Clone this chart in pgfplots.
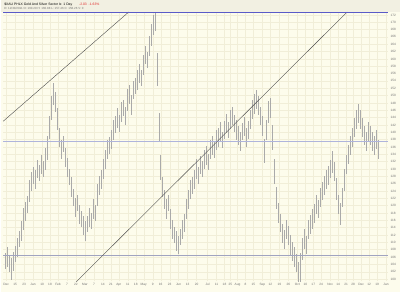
\documentclass[border=0pt]{standalone}
\usepackage{pgfplots}
\pgfplotsset{compat=1.18}
\usepackage{pgfplotstable}
\usepackage{fontspec}
\setmainfont{Liberation Sans}
\definecolor{bgc}{RGB}{253,252,236}
\definecolor{hdr}{RGB}{242,240,226}
\definecolor{gridc}{RGB}{241,238,216}
\definecolor{barc}{RGB}{170,170,170}
\definecolor{blueln}{RGB}{90,90,200}
\definecolor{bluelt}{RGB}{175,180,220}
\definecolor{txt}{RGB}{115,115,115}
\definecolor{redt}{RGB}{225,40,40}
\pgfplotstableread{
x c e
4 104.8 2.2
6 105.9 2.7
8 104.0 2.2
10 102.7 3.0
12 104.8 2.5
14 106.7 2.2
16 108.6 2.7
18 110.8 2.2
20 113.0 2.7
22 116.3 3.0
24 118.4 2.5
26 120.3 2.2
28 123.9 3.0
30 126.6 2.5
32 128.2 2.2
34 127.1 2.7
36 129.9 2.5
38 128.8 2.2
40 131.2 2.7
42 129.9 2.2
44 132.6 3.0
46 135.8 3.3
48 141.3 3.0
50 146.7 3.3
52 150.3 3.0
54 148.3 2.7
56 143.5 3.0
58 138.6 2.7
60 135.3 2.5
62 136.7 2.2
64 133.1 2.7
66 130.4 2.5
68 127.7 2.2
70 125.0 2.7
72 122.2 2.2
74 119.5 2.5
76 120.6 2.2
78 117.6 2.7
80 116.3 2.2
82 114.6 2.5
84 113.0 2.7
86 114.9 2.2
88 116.8 2.5
90 115.7 2.2
92 119.0 2.7
94 117.9 2.2
96 122.8 3.0
98 125.5 2.7
100 127.1 2.5
102 129.9 2.7
104 132.6 2.5
106 135.3 2.7
108 136.4 2.2
110 138.0 2.5
112 140.7 2.7
114 142.1 2.2
116 144.0 2.7
118 142.4 2.2
120 145.6 2.7
122 146.7 2.2
124 144.5 2.5
126 148.9 3.0
128 150.3 2.5
130 147.5 2.7
132 151.6 2.5
134 152.7 2.2
136 154.3 2.7
138 156.0 2.5
140 154.9 2.2
142 158.4 2.7
144 161.1 2.5
146 159.8 2.2
148 163.6 2.7
150 166.6 3.0
152 169.3 2.7
154 170.1 2.6
156 157.1 4.5
158 141.3 4.0
160 130.4 3.3
162 125.0 2.7
164 121.7 2.5
166 119.0 2.7
168 120.6 2.2
170 116.3 2.7
172 113.5 2.5
174 111.9 2.2
176 110.3 2.7
178 109.2 2.5
180 111.4 2.2
182 113.5 2.7
184 115.2 2.5
186 119.0 2.7
188 121.7 2.5
190 124.4 2.7
192 125.5 2.2
194 127.1 2.5
196 129.9 2.7
198 128.2 2.2
200 131.0 2.5
202 129.9 2.2
204 132.6 2.7
206 133.7 2.5
208 132.0 2.2
210 135.3 2.7
212 136.4 2.5
214 135.3 2.2
216 138.0 2.7
218 138.6 2.5
220 140.2 2.7
222 138.0 2.2
224 140.7 2.5
226 142.4 2.7
228 140.7 2.2
230 143.5 2.7
232 144.5 2.5
234 142.4 2.2
236 140.7 2.7
238 139.1 2.5
240 137.5 2.7
242 140.2 2.2
244 141.6 2.5
246 138.6 2.7
248 140.7 2.5
250 143.5 2.7
252 146.2 2.5
254 147.8 2.7
256 148.9 2.5
258 147.3 2.7
260 144.5 2.5
262 141.8 2.7
264 134.8 3.3
266 140.7 2.7
268 145.6 3.0
270 146.7 2.7
272 138.6 3.3
274 129.3 3.3
276 122.2 3.0
278 117.9 2.7
280 115.2 2.5
282 112.4 2.7
284 110.8 2.5
286 113.5 2.7
288 111.9 2.5
290 109.2 2.7
292 107.5 2.5
294 105.9 2.7
296 104.3 2.5
298 101.6 3.0
300 102.7 4.5
302 108.1 3.0
304 110.8 2.7
306 109.2 2.5
308 113.5 2.7
310 114.9 2.5
312 116.3 2.7
314 117.9 2.5
316 120.3 2.7
318 119.0 2.5
320 122.2 2.7
322 123.9 2.5
324 125.5 2.7
326 127.1 2.5
328 128.2 2.7
330 129.9 2.5
332 132.0 3.0
334 129.3 2.7
336 124.4 3.0
338 120.3 2.7
340 117.6 3.0
342 122.2 2.7
344 127.1 3.0
346 131.2 2.7
348 133.9 2.5
350 136.4 2.7
352 138.6 2.5
354 141.3 2.7
356 143.5 2.5
358 145.1 2.7
360 143.5 2.5
362 141.3 2.7
364 139.1 2.5
366 137.5 2.7
368 140.2 2.5
370 139.1 2.7
372 137.5 2.5
374 136.4 2.7
376 138.0 2.5
378 135.3 2.7
}\bars
\begin{document}
\begin{tikzpicture}[x=1bp,y=1bp]
\fill[bgc] (0,0) rectangle (400,293);
\fill[hdr] (0,281) rectangle (400,293);
\node[anchor=west, inner sep=0pt, font=\fontsize{3.4}{4}\selectfont] at (3,288.5) {\$XAU PHLX Gold And Silver Sector Ix\ \ 1 Day};
\node[anchor=west, inner sep=0pt, font=\fontsize{3.4}{4}\selectfont, text=redt] at (78,288.5) {-2.03\ \ -1.63\%};
\node[anchor=west, inner sep=0pt, font=\fontsize{3}{4}\selectfont, text=txt] at (3,284.5) {D: 12/30/2011\ O: 160.29\ H: 160.88\ L: 157.46\ C: 158.26\ V: 0};
\begin{axis}[
  at={(2bp,11bp)}, anchor=south west,
  width=386bp, height=270bp, scale only axis,
  xmin=2, xmax=388, ymin=99.4, ymax=172.8,
  axis line style={draw=none},
  major tick length=0pt,
  grid=major, grid style={gridc, line width=0.3bp},
  xtick={5,14,23,32,41,49,57,66,75,84,93,102,110,118,127,135,143,152,160,169,178,187,196,207,216,224,230,237,245,253,262,270,279,288,297,305,313,321,330,338,346,353,361,369,377,386},
  xticklabels={Dec,15,23,Jan,10,18,Feb,7,22,Mar,7,14,21,Apr,11,18,May,9,16,23,Jun,13,20,Jul,11,18,25,Aug,8,15,Sep,12,19,26,Oct,10,17,24,Nov,14,21,28,Dec,12,19,Jan},
  ytick={100,102,...,172},
  yticklabel pos=right,
  /pgf/number format/assume math mode=true,
  /pgf/number format/fixed, /pgf/number format/precision=0,
  tick label style={font=\fontsize{3.2}{4}\selectfont, text=txt},
  x tick label style={yshift=1.5bp},
  y tick label style={anchor=west, xshift=-1bp},
  clip=true,
]
\addplot[draw=none, mark=none, forget plot,
  error bars/.cd, y dir=both, y explicit, error mark=none,
  error bar style={draw=barc, line width=0.4bp}]
  table[x=x, y=c, y error=e] {\bars};
\addplot[bluelt, line width=0.4bp, forget plot] coordinates {(2,137.7) (388,137.7)};
\addplot[bluelt!70!gray, line width=0.4bp, forget plot] coordinates {(2,106.5) (388,106.5)};
\addplot[black!70, line width=0.4bp, forget plot] coordinates {(2,143.0) (128,172.8)};
\addplot[black!70, line width=0.4bp, forget plot] coordinates {(73,98.6) (347,172.8)};
\addplot[blueln, line width=0.7bp, forget plot] coordinates {(2,172.8) (388,172.8)};
\end{axis}
\end{tikzpicture}
\end{document}
